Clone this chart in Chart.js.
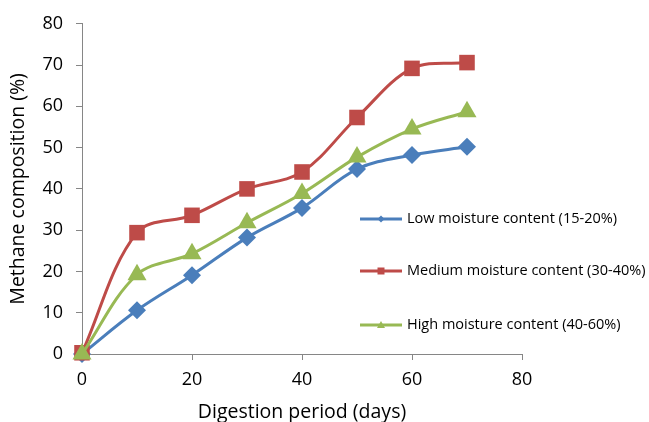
<!DOCTYPE html>
<html>
<head>
<meta charset="utf-8">
<script src="https://cdn.jsdelivr.net/npm/chart.js@4"></script>
<style>
  html, body { margin: 0; padding: 0; background: #fff; }
  #wrap { width: 649px; height: 422px; }
</style>
</head>
<body>
<div id="wrap"><canvas id="chart" width="649" height="422"></canvas></div>
<script>
// data
const days = [0, 10, 20, 30, 40, 50, 60, 70];
const lowMoisture = [0, 10.6, 19.1, 28.2, 35.4, 44.8, 48.2, 50.2];
const mediumMoisture = [0.3, 29.4, 33.6, 40.0, 44.1, 57.3, 69.2, 70.6];
const highMoisture = [0, 19.2, 24.3, 31.8, 38.9, 47.7, 54.5, 58.7];
const seriesLabels = [
  'Low moisture content (15-20%)',
  'Medium moisture content (30-40%)',
  'High moisture content (40-60%)'
];
const xTicks = [0, 20, 40, 60, 80];

const FONT = "'Open Sans', 'DejaVu Sans', sans-serif";
const axisGray = '#868686';

const toPoints = (ys) => days.map((d, i) => ({ x: d, y: ys[i] }));

// legend drawn inside the plot, right side, like the original
const insideLegend = {
  id: 'insideLegend',
  afterDraw(chart) {
    const ctx = chart.ctx;
    const rowsY = [219, 271, 325];
    ctx.save();
    chart.data.datasets.forEach((ds, i) => {
      const y = rowsY[i];
      ctx.strokeStyle = ds.borderColor;
      ctx.lineWidth = 3;
      ctx.beginPath();
      ctx.moveTo(360, y);
      ctx.lineTo(402, y);
      ctx.stroke();
      ctx.fillStyle = ds.borderColor;
      ctx.beginPath();
      if (ds.pointStyle === 'rectRot') {
        ctx.moveTo(381, y - 3.5); ctx.lineTo(384.5, y); ctx.lineTo(381, y + 3.5); ctx.lineTo(377.5, y);
      } else if (ds.pointStyle === 'rect') {
        ctx.rect(377.5, y - 3.5, 7, 7);
      } else {
        ctx.moveTo(381, y - 4); ctx.lineTo(385, y + 3); ctx.lineTo(377, y + 3);
      }
      ctx.closePath();
      ctx.fill();
      ctx.fillStyle = '#000';
      ctx.font = '14.5px ' + FONT;
      ctx.textBaseline = 'middle';
      ctx.textAlign = 'left';
      ctx.fillText(ds.label, 407, y);
    });
    ctx.restore();
  }
};

new Chart(document.getElementById('chart'), {
  type: 'line',
  data: {
    datasets: [
      {
        label: seriesLabels[0],
        data: toPoints(lowMoisture),
        borderColor: '#4A7EBB',
        backgroundColor: '#4A7EBB',
        pointStyle: 'rectRot',
        pointRadius: 9,
        order: 3,
        clip: false
      },
      {
        label: seriesLabels[1],
        data: toPoints(mediumMoisture),
        borderColor: '#BE4B48',
        backgroundColor: '#BE4B48',
        pointStyle: 'rect',
        pointRadius: 11,
        order: 2,
        clip: false
      },
      {
        label: seriesLabels[2],
        data: toPoints(highMoisture),
        borderColor: '#98B954',
        backgroundColor: '#98B954',
        pointStyle: 'triangle',
        pointRadius: 11,
        order: 1,
        clip: false
      }
    ]
  },
  options: {
    responsive: false,
    animation: false,
    layout: { padding: { top: 16, right: 127, left: 5, bottom: 0 } },
    elements: {
      line: { borderWidth: 3, tension: 0.35 },
      point: { borderWidth: 0 }
    },
    plugins: {
      legend: { display: false },
      tooltip: { enabled: false }
    },
    scales: {
      x: {
        type: 'linear',
        min: 0,
        max: 80,
        afterBuildTicks(axis) { axis.ticks = xTicks.map((v) => ({ value: v })); },
        afterFit(axis) { axis.height = 68; },
        border: { color: axisGray, width: 1 },
        grid: { drawOnChartArea: false, color: axisGray, tickLength: 6 },
        ticks: { color: '#000', font: { family: FONT, size: 18 }, padding: 9 },
        title: {
          display: true,
          text: 'Digestion period (days)',
          color: '#000',
          font: { family: FONT, size: 19.5 },
          padding: { top: 8, bottom: -2 }
        }
      },
      y: {
        min: 0,
        max: 80,
        afterFit(axis) { axis.width = 77; },
        border: { color: axisGray, width: 1 },
        grid: { drawOnChartArea: false, color: axisGray, tickLength: 6 },
        ticks: { stepSize: 10, color: '#000', font: { family: FONT, size: 18 }, padding: 13 },
        title: {
          display: true,
          text: 'Methane composition (%)',
          color: '#000',
          font: { family: FONT, size: 19.5 },
          padding: { top: 2, bottom: 4 }
        }
      }
    }
  },
  plugins: [insideLegend]
});
</script>
</body>
</html>
